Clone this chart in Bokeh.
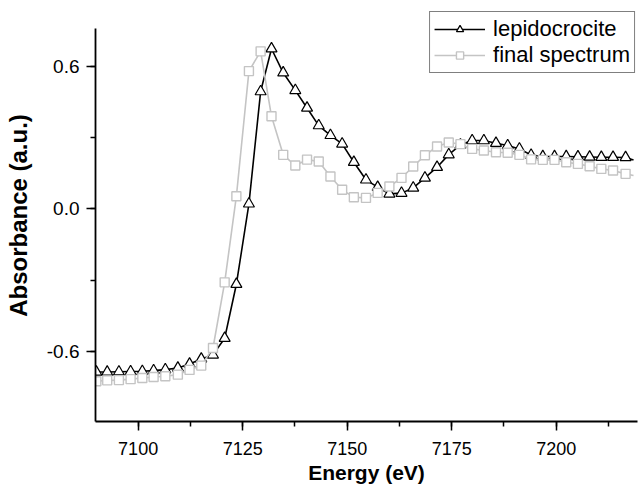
from bokeh.plotting import figure
from bokeh.models import Range1d, SingleIntervalTicker, PrintfTickFormatter, Legend, LegendItem
from bokeh.embed import file_html
from bokeh.resources import INLINE

# ---- data ----
energy = [7090.0, 7092.6, 7095.4, 7098.2, 7101.0, 7103.7, 7106.5, 7109.5, 7112.3, 7115.1,
          7117.9, 7120.7, 7123.5, 7126.5, 7129.3, 7131.9, 7134.7, 7137.6, 7140.4, 7143.2,
          7146.0, 7148.8, 7151.6, 7154.5, 7157.3, 7160.1, 7163.0, 7165.8, 7168.6, 7171.5,
          7174.3, 7177.1, 7179.9, 7182.7, 7185.6, 7188.4, 7191.2, 7194.0, 7196.8, 7199.6,
          7202.4, 7205.2, 7208.0, 7210.8, 7213.6, 7216.6, 7218.5]

lepidocrocite = [-0.686, -0.686, -0.685, -0.684, -0.683, -0.680, -0.676, -0.669, -0.652, -0.631,
                 -0.614, -0.544, -0.317, 0.021, 0.493, 0.673, 0.572, 0.498, 0.424, 0.350,
                 0.309, 0.273, 0.196, 0.122, 0.091, 0.063, 0.066, 0.088, 0.130, 0.175,
                 0.228, 0.269, 0.287, 0.287, 0.276, 0.266, 0.252, 0.226, 0.220, 0.220,
                 0.220, 0.219, 0.218, 0.217, 0.217, 0.216, 0.205]

final_spectrum = [-0.725, -0.721, -0.720, -0.716, -0.711, -0.707, -0.704, -0.697, -0.677, -0.659,
                  -0.585, -0.309, 0.053, 0.579, 0.662, 0.389, 0.227, 0.182, 0.207, 0.199,
                  0.136, 0.080, 0.049, 0.046, 0.067, 0.094, 0.130, 0.178, 0.225, 0.262,
                  0.279, 0.272, 0.252, 0.245, 0.238, 0.236, 0.227, 0.208, 0.206, 0.206,
                  0.196, 0.189, 0.179, 0.168, 0.161, 0.147, 0.140]

series_names = ["lepidocrocite", "final spectrum"]
x_label = "Energy (eV)"
y_label = "Absorbance (a.u.)"

FONT = "Liberation Sans"

p = figure(width=640, height=491, output_backend="svg", toolbar_location=None, title=None,
           x_range=Range1d(7089.8, 7219.45), y_range=Range1d(-0.894, 0.838),
           min_border_left=95, min_border_right=3, min_border_top=9, min_border_bottom=70)

p.outline_line_color = None
p.xgrid.visible = False
p.ygrid.visible = False

# axes
p.xaxis.ticker = SingleIntervalTicker(interval=25, num_minor_ticks=2)
p.yaxis.ticker = SingleIntervalTicker(interval=0.6, num_minor_ticks=2)
p.yaxis.formatter = PrintfTickFormatter(format="%.1f")
p.yaxis.bounds = (-0.894, 0.757)

for ax in (p.xaxis, p.yaxis):
    ax.axis_line_color = "black"
    ax.axis_line_width = 1.8
    ax.major_tick_line_color = "black"
    ax.major_tick_line_width = 1.5
    ax.minor_tick_line_color = "black"
    ax.minor_tick_line_width = 1.5
    ax.major_tick_in = 0
    ax.major_tick_out = 9
    ax.minor_tick_in = 0
    ax.minor_tick_out = 5
    ax.major_label_text_font = FONT
    ax.major_label_text_color = "black"
    ax.axis_label_text_font = FONT
    ax.axis_label_text_font_style = "bold"
    ax.axis_label_text_color = "black"

p.xaxis.axis_label = x_label
p.xaxis.major_label_text_font_size = "18px"
p.xaxis.axis_label_text_font_size = "21px"
p.xaxis.major_label_standoff = 11
p.xaxis.axis_label_standoff = 3

p.yaxis.axis_label = y_label
p.yaxis.major_label_text_font_size = "19px"
p.yaxis.axis_label_text_font_size = "24px"
p.yaxis.major_label_standoff = 7
p.yaxis.axis_label_standoff = 12

# series
l1 = p.line(energy, lepidocrocite, line_color="black", line_width=1.6)
m1 = p.scatter(energy[:-1], lepidocrocite[:-1], marker="triangle", size=11,
               fill_color="white", line_color="black", line_width=1.2)
l2 = p.line(energy, final_spectrum, line_color="#c4c4c4", line_width=1.6)
m2 = p.scatter(energy[:-1], final_spectrum[:-1], marker="square", size=9,
               fill_color="white", line_color="#c4c4c4", line_width=1.4)

legend = Legend(items=[LegendItem(label=series_names[0], renderers=[l1, m1]),
                       LegendItem(label=series_names[1], renderers=[l2, m2])],
                location="top_right")
legend.label_text_font = FONT
legend.label_text_font_size = "22px"
legend.label_text_color = "black"
legend.border_line_color = "black"
legend.border_line_width = 1
legend.background_fill_color = "white"
legend.background_fill_alpha = 1
legend.glyph_width = 51
legend.glyph_height = 18
legend.label_height = 24
legend.label_standoff = 8
legend.padding = 4
legend.spacing = 0
legend.margin = 2
p.add_layout(legend)

open("out.html", "w").write(file_html(p, INLINE))
